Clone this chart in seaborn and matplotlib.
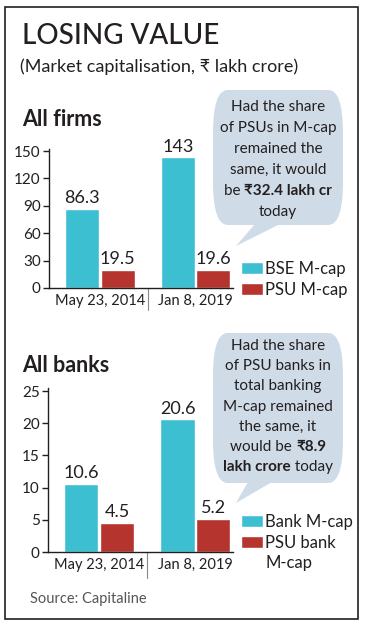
import pandas as pd
import matplotlib
matplotlib.use('Agg')
import matplotlib.pyplot as plt
from matplotlib.patches import FancyBboxPatch, Polygon, Rectangle
import seaborn as sns

dates = ['May 23, 2014', 'Jan 8, 2019']

firm_series = ['BSE M-cap', 'PSU M-cap']
bse_mcap = [86.3, 143]
psu_mcap = [19.5, 19.6]

bank_series = ['Bank M-cap', 'PSU bank M-cap']
bank_mcap = [10.6, 20.6]
psu_bank_mcap = [4.5, 5.2]

firm_ticks = [0, 30, 60, 90, 120, 150]
bank_ticks = [0, 5, 10, 15, 20, 25]

firm_note = [[('Had the share', 'normal')],
             [('of PSUs in M-cap', 'normal')],
             [('remained the', 'normal')],
             [('same, it would', 'normal')],
             [('be ', 'normal'), ('₹32.4 lakh cr', 'bold')],
             [('today', 'normal')]]
bank_note = [[('Had the share', 'normal')],
             [('of PSU banks in', 'normal')],
             [('total banking', 'normal')],
             [('M-cap remained', 'normal')],
             [('the same, it', 'normal')],
             [('would be ', 'normal'), ('₹8.9', 'bold')],
             [('lakh crore', 'bold'), (' today', 'normal')]]

CYAN = '#3dbfd2'
RED = '#b5342d'
BUBBLE = '#cfdce8'
INK = '#231f20'
FONT = ['Lato', 'Noto Sans', 'DejaVu Sans']

sns.set_style('white')
plt.rcParams['font.family'] = FONT

W, H = 367, 630
fig = plt.figure(figsize=(W / 100, H / 100), dpi=100)


def fx(x):
    return x / W


def fy(y):
    return 1 - y / H


# frame
fig.patches.append(Rectangle((fx(5), fy(619)), fx(358) - fx(5), fy(7) - fy(619),
                             transform=fig.transFigure, fill=False,
                             edgecolor=INK, linewidth=1.2))

fig.text(fx(22), fy(36), 'LOSING VALUE', fontsize=20, color=INK,
         va='center', ha='left', fontweight='medium')
fig.text(fx(20), fy(67), '(Market capitalisation, ₹ lakh crore)', fontsize=13,
         color=INK, va='center', ha='left')
fig.text(fx(22), fy(120), 'All firms', fontsize=15.5, fontweight='bold',
         color=INK, va='center', ha='left')
fig.text(fx(22), fy(365), 'All banks', fontsize=15.5, fontweight='bold',
         color=INK, va='center', ha='left')
fig.text(fx(30), fy(599), 'Source: Capitaline', fontsize=10.5, color='#555555',
         va='center', ha='left')


def draw_panel(rect, values_a, values_b, series, ticks, ylim, legend_xy):
    ax = fig.add_axes(rect)
    df = pd.DataFrame({
        'date': dates * 2,
        'value': values_a + values_b,
        'series': [series[0]] * 2 + [series[1]] * 2,
    })
    sns.barplot(data=df, x='date', y='value', hue='series',
                palette=[CYAN, RED], width=0.74, gap=0.04,
                saturation=1, ax=ax)
    for cont, vals in zip(ax.containers, [values_a, values_b]):
        ax.bar_label(cont, labels=['{:g}'.format(v) for v in vals],
                     padding=2, fontsize=13, color=INK)
    ax.set_xlim(-0.53, 1.39)
    ax.set_ylim(*ylim)
    ax.set_yticks(ticks)
    ax.set_xlabel('')
    ax.set_ylabel('')
    sns.despine(ax=ax)
    for s in ['left', 'bottom']:
        ax.spines[s].set_color(INK)
        ax.spines[s].set_linewidth(1)
    ax.tick_params(axis='y', length=4, width=1, color=INK, labelsize=11,
                   labelcolor=INK, pad=2, left=True)
    ax.tick_params(axis='x', length=0, labelsize=10.5, labelcolor=INK, pad=4)
    ax.plot([0.5, 0.5], [0, -0.16], color='#888888', linewidth=0.8,
            transform=ax.get_xaxis_transform(), clip_on=False)
    handles, labels = ax.get_legend_handles_labels()
    # long labels wrap after the second word, like the print layout
    shown = []
    for lab in labels:
        words = lab.split(' ')
        shown.append(' '.join(words[:2]) if len(words) > 2 else lab)
    leg = ax.legend(handles, shown, loc='upper left',
                    bbox_to_anchor=(fx(legend_xy[0]), fy(legend_xy[1])),
                    bbox_transform=fig.transFigure, frameon=False, fontsize=12,
                    handlelength=1.3, handleheight=0.7, handletextpad=0.15,
                    labelspacing=0.3, borderpad=0, borderaxespad=0,
                    labelcolor=INK)
    fig.canvas.draw()
    for lab, t in zip(labels, leg.get_texts()):
        words = lab.split(' ')
        if len(words) > 2:
            bb = t.get_window_extent().transformed(fig.transFigure.inverted())
            fig.text(bb.x0, bb.y0 - 20 / H, ' '.join(words[2:]), fontsize=12,
                     color=INK, va='bottom', ha='left')
    return ax


draw_panel([fx(49), fy(288), fx(233) - fx(49), 138.8 / H],
           bse_mcap, psu_mcap, firm_series, firm_ticks, (0, 152), (241, 261))
draw_panel([fx(48), fy(552), fx(233) - fx(48), 164.2 / H],
           bank_mcap, psu_bank_mcap, bank_series, bank_ticks, (0, 25.5), (241, 514))


def bubble(x0, y0, x1, y1, tail, lines, cx, first_y, step):
    fig.patches.append(FancyBboxPatch((fx(x0), fy(y1)), fx(x1) - fx(x0), fy(y0) - fy(y1),
                                      boxstyle='round,pad=0,rounding_size=0.04',
                                      transform=fig.transFigure, facecolor=BUBBLE,
                                      edgecolor='none', mutation_aspect=H / W))
    fig.patches.append(Polygon([(fx(px), fy(py)) for px, py in tail], closed=True,
                               transform=fig.transFigure, facecolor=BUBBLE,
                               edgecolor='none'))
    renderer = fig.canvas.get_renderer()
    for i, segs in enumerate(lines):
        y = fy(first_y + i * step)
        texts = []
        for s, wt in segs:
            texts.append(fig.text(0, y, s, fontsize=11, fontweight=wt, color=INK,
                                  va='center', ha='left'))
        widths = [t.get_window_extent(renderer).width / fig.bbox.width for t in texts]
        x = fx(cx) - sum(widths) / 2
        for t, w in zip(texts, widths):
            t.set_x(x)
            x += w


bubble(213, 90, 343, 225, [(255, 224), (280, 224), (236, 246)],
       firm_note, 278, 107, 21)
bubble(213, 333, 343, 483, [(248, 482), (272, 482), (236, 503)],
       bank_note, 278, 346, 20.2)

fig.savefig('out.png', dpi=100)
